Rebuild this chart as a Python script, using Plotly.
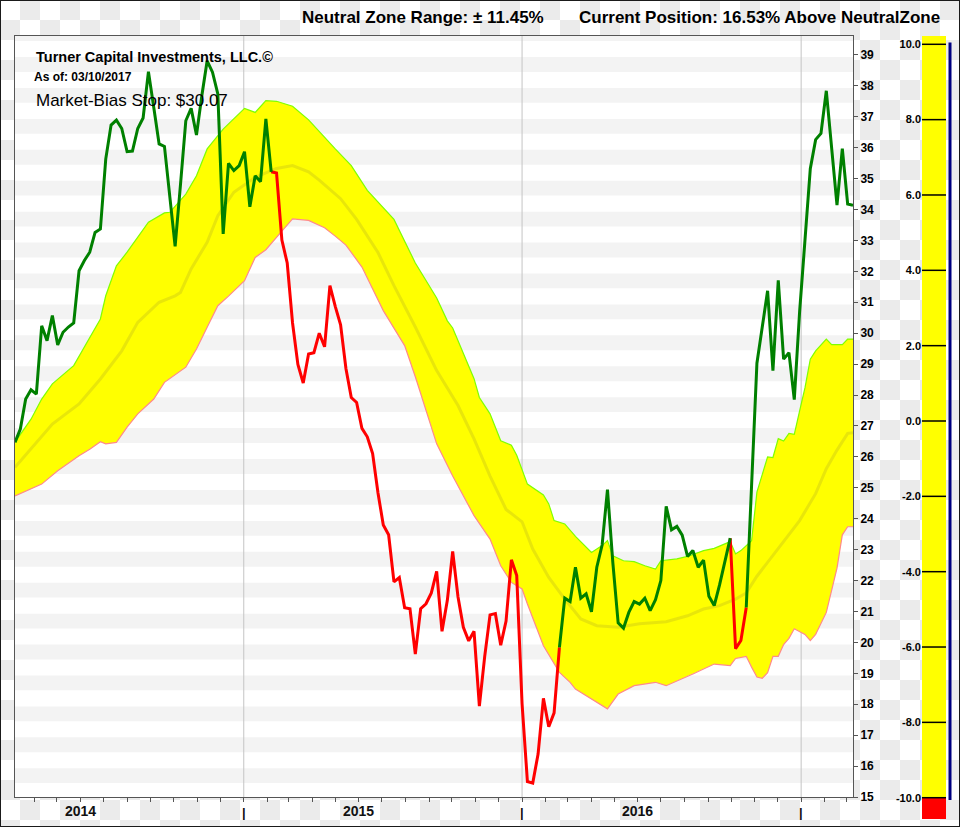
import base64
import struct
import zlib

import pandas as pd
import plotly.graph_objects as go

# ---------------- data ----------------
PRICE = [
    26.47, 26.90, 27.87, 28.17, 28.03, 30.24, 29.76, 30.57, 29.62, 30.03,
    30.20, 30.33, 32.02, 32.35, 32.62, 33.26, 33.37, 35.63, 36.73, 36.89,
    36.62, 35.87, 35.89, 36.62, 36.96, 38.46, 37.30, 36.12, 36.04, 34.40,
    32.81, 34.80, 36.87, 37.27, 36.41, 37.68, 38.81, 38.44, 37.74, 33.21,
    35.49, 35.26, 35.42, 35.87, 34.09, 35.09, 34.90, 36.93, 35.22, 35.18,
    33.01, 32.27, 30.33, 28.99, 28.39, 29.33, 29.37, 30.00, 29.56, 31.54,
    30.87, 30.27, 28.86, 27.92, 27.76, 26.92, 26.65, 26.11, 24.84, 23.80,
    23.48, 21.96, 22.10, 21.12, 21.09, 19.62, 21.09, 21.25, 21.60, 22.30,
    20.36, 21.36, 22.94, 21.47, 20.49, 20.05, 20.36, 17.94, 19.55, 20.89,
    20.93, 19.91, 20.69, 22.67, 22.16, 18.01, 15.50, 15.45, 16.39, 18.19,
    17.27, 17.72, 19.84, 21.43, 21.32, 22.43, 21.43, 21.57, 20.99, 22.43,
    23.15, 24.94, 22.59, 20.63, 20.46, 20.97, 21.32, 21.24, 21.43, 21.03,
    21.38, 22.00, 24.40, 23.64, 23.75, 23.47, 22.78, 22.97, 22.43, 22.66,
    21.49, 21.19, 21.86, 22.61, 23.37, 19.80, 20.06, 21.13, 25.10, 29.03,
    30.20, 31.37, 28.79, 31.71, 29.16, 29.37, 27.85, 30.70, 33.00, 35.32,
    36.26, 36.46, 37.84, 36.00, 34.14, 35.97, 34.18, 34.14,
]
LAST_DATE = "2017-03-10"

# week index ranges (inclusive) of each colour of the price line
GREEN_RANGES = [(0, 48), (102, 134), (137, 157)]
RED_RANGES = [(48, 102), (134, 137)]

UPPER_IDX = [0, 3, 5, 7, 11, 13, 16, 17, 19, 21, 25, 28, 29, 32, 34, 36, 39, 43, 45, 47,
             49, 52, 55, 60, 63, 66, 71, 75, 79, 81, 82, 86, 87, 89, 91, 93, 94, 96, 99,
             100, 101, 103, 105, 108, 110, 111, 112, 114, 116, 118, 120, 121, 124, 126,
             129, 131, 134, 135, 136, 138, 139, 141, 142, 143, 144, 145, 146, 147, 148,
             149, 150, 152, 153, 155, 156, 157]
UPPER = [26.48, 27.22, 27.87, 28.36, 28.95, 29.55, 30.46, 31.21, 32.18, 32.62, 33.59,
         33.89, 33.91, 34.50, 35.09, 35.96, 36.60, 37.27, 37.14, 37.52, 37.50, 37.34,
         36.90, 35.96, 35.42, 34.62, 33.68, 32.27, 31.14, 30.40, 30.17, 28.53, 27.92,
         27.39, 26.52, 26.38, 26.05, 25.12, 24.77, 24.48, 23.94, 23.83, 23.43, 22.91,
         23.13, 23.29, 22.80, 22.64, 22.61, 22.48, 22.37, 22.64, 22.70, 22.78, 22.97,
         23.04, 23.26, 22.86, 22.97, 23.29, 24.86, 26.00, 25.98, 26.59, 26.51, 26.76,
         26.73, 27.49, 28.23, 29.16, 29.43, 29.81, 29.63, 29.63, 29.81, 29.81]

LOWER_IDX = [0, 3, 5, 8, 12, 14, 16, 17, 19, 21, 23, 26, 28, 32, 34, 36, 38, 40, 43, 45,
             47, 50, 52, 55, 58, 60, 62, 65, 69, 73, 75, 79, 82, 86, 89, 91, 93, 95, 96,
             99, 102, 104, 105, 111, 113, 116, 120, 122, 125, 127, 131, 134, 135, 137,
             138, 139, 140, 141, 142, 143, 144, 145, 146, 148, 149, 150, 152, 154, 155,
             156, 157]
LOWER = [24.74, 24.96, 25.12, 25.55, 26.04, 26.25, 26.49, 26.42, 26.47, 26.96, 27.39,
         27.87, 28.41, 28.90, 29.49, 30.19, 30.89, 31.20, 31.70, 32.45, 32.70, 33.30,
         33.70, 33.65, 33.41, 33.14, 32.85, 32.14, 30.73, 29.60, 28.59, 26.42, 25.38,
         24.10, 23.34, 22.48, 21.94, 21.73, 21.24, 19.89, 19.03, 18.71, 18.49, 17.85,
         18.33, 18.60, 18.71, 18.60, 18.82, 18.98, 19.30, 19.25, 19.48, 19.55, 19.20,
         18.88, 18.84, 19.02, 19.55, 19.55, 19.93, 20.13, 20.44, 20.26, 20.06, 20.26,
         20.97, 22.40, 23.48, 23.74, 23.74]

MID_IDX = [0, 3, 7, 12, 16, 20, 23, 27, 30, 31, 33, 36, 38, 41, 45, 49, 52, 55, 57, 61,
           64, 68, 71, 75, 79, 83, 86, 89, 92, 95, 97, 100, 103, 106, 109, 113, 117, 122,
           126, 129, 132, 135, 137, 139, 141, 143, 145, 147, 150, 152, 154, 156, 157]
MID = [25.66, 26.25, 27.06, 27.71, 28.52, 29.43, 30.35, 31.00, 31.21, 31.32, 32.08,
       32.94, 33.80, 34.56, 35.04, 35.33, 35.42, 35.22, 34.95, 34.35, 33.68, 32.61,
       31.54, 30.20, 28.79, 27.66, 26.58, 25.38, 24.30, 23.90, 23.02, 22.10, 21.40,
       20.76, 20.54, 20.49, 20.60, 20.67, 20.86, 21.08, 21.19, 21.40, 21.60, 22.14,
       22.60, 23.03, 23.48, 23.94, 24.81, 25.62, 26.22, 26.76, 26.78]

Y_TICKS = list(range(15, 40))
YEAR_LABELS = ["2014", "2015", "2016"]
YEAR_LABEL_DATES = ["2014-06-01", "2015-06-01", "2016-06-01"]
YEAR_BOUNDS = ["2015-01-01", "2016-01-01", "2017-01-01"]
GAUGE_TICKS = [-10, -8, -6, -4, -2, 0, 2, 4, 6, 8, 10]

TITLE_LEFT = "Neutral Zone Range: ± 11.45%"
TITLE_RIGHT = "Current Position: 16.53% Above NeutralZone"
COMPANY = "Turner Capital Investments, LLC.©"
AS_OF = "As of: 03/10/2017"
STOP = "Market-Bias Stop: $30.07"

# ---------------- geometry / styles ----------------
W, H = 960, 827
PL, PT, PR, PB = 15, 36, 853, 797          # main plot box in px
GL, GR, GT, GB = 922, 952, 36, 819         # gauge box in px
FONT = "Liberation Sans, Arial, sans-serif"


def checker_png(w, h, sq, grey, hole):
    x0, y0, x1, y1 = hole
    white = b"\xff\xff\xff"
    g = bytes(grey)
    rows = []
    for y in range(h):
        parts = []
        for bx in range(0, w, sq):
            n = min(sq, w - bx)
            parts.append((g if ((bx // sq + y // sq) % 2) else white) * n)
        row = bytearray(b"".join(parts))
        if y0 <= y < y1:
            row[x0 * 3:x1 * 3] = white * (x1 - x0)
        rows.append(b"\x00" + bytes(row))
    raw = b"".join(rows)

    def chunk(tag, data):
        return (struct.pack(">I", len(data)) + tag + data
                + struct.pack(">I", zlib.crc32(tag + data) & 0xFFFFFFFF))

    png = (b"\x89PNG\r\n\x1a\n"
           + chunk(b"IHDR", struct.pack(">IIBBBBB", w, h, 8, 2, 0, 0, 0))
           + chunk(b"IDAT", zlib.compress(raw, 9))
           + chunk(b"IEND", b""))
    return "data:image/png;base64," + base64.b64encode(png).decode()


dates = pd.date_range(end=LAST_DATE, periods=len(PRICE), freq="7D")
n = len(PRICE)


def segment(ranges):
    y = [None] * n
    for a, b in ranges:
        for i in range(a, b + 1):
            y[i] = PRICE[i]
    return y


up_x = [dates[i] for i in UPPER_IDX]
lo_x = [dates[i] for i in LOWER_IDX]
mid_x = [dates[i] for i in MID_IDX]

fig = go.Figure()
fig.add_trace(go.Scatter(x=up_x + lo_x[::-1], y=UPPER + LOWER[::-1], fill="toself",
                         fillcolor="#ffff00", mode="lines", line=dict(width=0),
                         hoverinfo="skip", showlegend=False))
fig.add_trace(go.Scatter(x=up_x, y=UPPER, mode="lines",
                         line=dict(color="#7fff00", width=1.2), showlegend=False))
fig.add_trace(go.Scatter(x=lo_x, y=LOWER, mode="lines",
                         line=dict(color="#ff8a8a", width=1.2), showlegend=False))
fig.add_trace(go.Scatter(x=mid_x, y=MID, mode="lines",
                         line=dict(color="rgba(160,150,40,0.24)", width=3), showlegend=False))
fig.add_trace(go.Scatter(x=dates, y=segment(RED_RANGES), mode="lines", connectgaps=False,
                         line=dict(color="#ff0000", width=3), showlegend=False))
fig.add_trace(go.Scatter(x=dates, y=segment(GREEN_RANGES), mode="lines", connectgaps=False,
                         line=dict(color="#008000", width=3), showlegend=False))
# anchor trace for the gauge axes
fig.add_trace(go.Scatter(x=[0.5], y=[0], xaxis="x2", yaxis="y2", mode="markers",
                         marker=dict(opacity=0), hoverinfo="skip", showlegend=False))

# gauge scale
g_ppu = (797.7 - 44.3) / 20.0
g_top = 10 + (44.3 - GT) / g_ppu
g_bot = -10 - (GB - 797.7) / g_ppu
bar_r = (946 - GL) / (GR - GL)
navy_x = (950 - GL) / (GR - GL)

shapes = []
for v in Y_TICKS:
    shapes.append(dict(type="rect", xref="x domain", yref="y", x0=0, x1=1,
                       y0=v + 0.45, y1=v + 0.93, fillcolor="#f3f3f3",
                       line=dict(width=0), layer="below"))
for d in YEAR_BOUNDS:
    shapes.append(dict(type="line", xref="x", yref="y domain", x0=d, x1=d, y0=0, y1=1,
                       line=dict(color="#c4c4c4", width=1), layer="below"))
shapes.append(dict(type="rect", xref="x2", yref="y2", x0=0, x1=bar_r, y0=-10, y1=g_top,
                   fillcolor="#ffff00", line=dict(width=0)))
shapes.append(dict(type="rect", xref="x2", yref="y2", x0=0, x1=bar_r, y0=g_bot, y1=-10,
                   fillcolor="#ff0000", line=dict(width=0)))
for v in GAUGE_TICKS:
    shapes.append(dict(type="line", xref="x2", yref="y2", x0=0, x1=bar_r, y0=v, y1=v,
                       line=dict(color="#000000", width=1.5)))
shapes.append(dict(type="line", xref="x2", yref="y2", x0=navy_x, x1=navy_x,
                   y0=10.05, y1=-10.06, line=dict(color="#000080", width=3)))
shapes.append(dict(type="rect", xref="paper", yref="paper", x0=0, x1=1, y0=0, y1=1,
                   line=dict(color="#1a1a1a", width=2), fillcolor="rgba(0,0,0,0)",
                   layer="above"))


def px(x):
    return x / W


def py(y):
    return 1 - y / H


annotations = [
    dict(text=TITLE_LEFT, x=px(546), y=py(18), xref="paper", yref="paper",
         xanchor="right", yanchor="middle", showarrow=False,
         font=dict(family=FONT, size=17, color="#000", weight="bold")),
    dict(text=TITLE_RIGHT, x=px(942), y=py(18), xref="paper", yref="paper",
         xanchor="right", yanchor="middle", showarrow=False,
         font=dict(family=FONT, size=17, color="#000", weight="bold")),
    dict(text=COMPANY, x=px(34), y=py(57), xref="paper", yref="paper",
         xanchor="left", yanchor="middle", showarrow=False,
         font=dict(family=FONT, size=14.5, color="#000", weight="bold")),
    dict(text=AS_OF, x=px(32), y=py(77), xref="paper", yref="paper",
         xanchor="left", yanchor="middle", showarrow=False,
         font=dict(family=FONT, size=12, color="#000", weight="bold")),
    dict(text=STOP, x=px(34), y=py(100), xref="paper", yref="paper",
         xanchor="left", yanchor="middle", showarrow=False,
         font=dict(family=FONT, size=17, color="#000")),
]
for lab, d in zip(YEAR_LABELS, YEAR_LABEL_DATES):
    annotations.append(dict(text=lab, x=d, y=py(811), xref="x", yref="paper",
                            xanchor="center", yanchor="middle", showarrow=False,
                            font=dict(family=FONT, size=14, color="#111", weight="bold")))
for d in YEAR_BOUNDS:
    annotations.append(dict(text="|", x=d, y=py(812), xref="x", yref="paper",
                            xanchor="center", yanchor="middle", showarrow=False,
                            font=dict(family=FONT, size=13, color="#111", weight="bold")))

fig.update_layout(
    width=W, height=H,
    margin=dict(l=0, r=0, t=0, b=0, autoexpand=False),
    paper_bgcolor="#ffffff", plot_bgcolor="rgba(0,0,0,0)",
    showlegend=False, hovermode=False,
    images=[dict(source=checker_png(W, H, 20, (235, 235, 235), (PL, PT, PR, PB)),
                 xref="paper", yref="paper", x=0, y=1, sizex=1, sizey=1,
                 xanchor="left", yanchor="top", sizing="stretch", layer="below")],
    xaxis=dict(domain=[px(PL), px(PR)], anchor="y", type="date",
               range=[dates[0], dates[-1]],
               tickvals=list(pd.date_range("2014-04-01", "2017-03-01", freq="MS")),
               ticks="outside", ticklen=4, tickcolor="#555", showticklabels=False,
               showgrid=False, zeroline=False, showline=True, linecolor="#555",
               linewidth=1, mirror=True),
    yaxis=dict(domain=[py(PB), py(PT)], anchor="x", side="right",
               range=[15, 15 + (PB - PT) / 30.92], tickvals=Y_TICKS,
               ticks="outside", ticklen=4, tickcolor="#555",
               tickfont=dict(family=FONT, size=12, color="#000", weight="bold"),
               showgrid=False, zeroline=False, showline=True, linecolor="#555",
               linewidth=1, mirror=True),
    xaxis2=dict(domain=[px(GL), px(GR)], anchor="y2", range=[0, 1], visible=False),
    yaxis2=dict(domain=[py(GB), py(GT)], anchor="x2", side="left",
                range=[g_bot, g_top], tickvals=GAUGE_TICKS,
                ticktext=[f"{v:.1f}" for v in GAUGE_TICKS], ticks="",
                tickfont=dict(family=FONT, size=11, color="#000", weight="bold"),
                showgrid=False, zeroline=False, showline=False),
    shapes=shapes,
    annotations=annotations,
)

fig.write_html("out.html")
